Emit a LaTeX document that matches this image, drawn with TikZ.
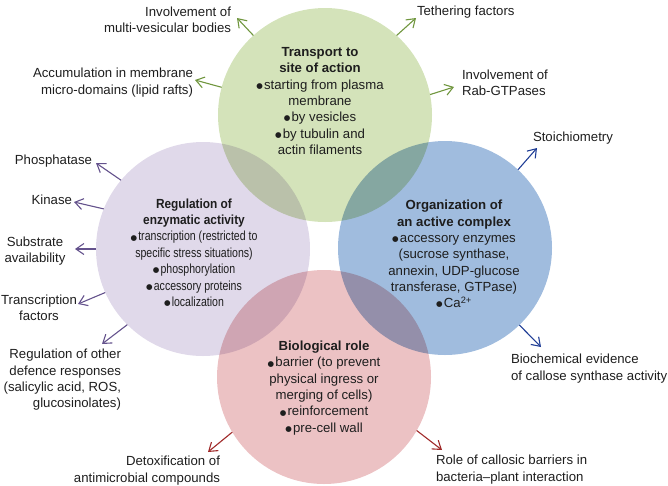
\documentclass[tikz,border=0pt]{standalone}
\usepackage{fontspec}
\setmainfont{Liberation Sans}
\newfontfamily\symfont{DejaVu Sans}
\newfontfamily\purpbody[FakeStretch=0.8]{Liberation Sans}
\newfontfamily\purptitle[FakeStretch=0.9]{Liberation Sans}
\usetikzlibrary{arrows.meta}
\definecolor{gfill}{RGB}{212,227,186}
\definecolor{pfill}{RGB}{224,217,234}
\definecolor{bfill}{RGB}{160,188,222}
\definecolor{rfill}{RGB}{236,194,196}
\definecolor{garr}{RGB}{112,150,62}
\definecolor{parr}{RGB}{100,82,140}
\definecolor{barr}{RGB}{32,62,150}
\definecolor{rarr}{RGB}{160,42,42}
\definecolor{txt}{RGB}{30,30,30}
\newcommand{\bul}{\raisebox{0.8pt}{\symfont\fontsize{7.5}{8}\selectfont ●}\kern1.2pt}
\newcommand{\ptitle}[1]{{\purptitle\bfseries #1}}
\tikzset{
  bubble/.style={circle, minimum size=214pt, inner sep=0pt, outer sep=0pt, draw=none},
  lbl/.style={inner sep=0pt, outer sep=0pt, text=txt, font=\fontsize{13.2}{16.3}\selectfont},
  inner/.style={lbl, align=center},
  narrow/.style={inner, font={\fontsize{13.2}{16.4}\selectfont\purpbody}},
  arr/.style={line width=1.1pt, -{Straight Barb[length=8pt,width=11pt]}},
}
\begin{document}
\begin{tikzpicture}[x=1pt,y=-1pt]
\useasboundingbox (0,0) rectangle (668,485);
\begin{scope}[blend mode=multiply]
\node[bubble, fill=gfill] (green) at (325,115) {};
\node[bubble, fill=pfill] (purple) at (203,249) {};
\node[bubble, fill=bfill] (blue) at (445,248) {};
\node[bubble, fill=rfill] (red) at (324,377) {};
\end{scope}

% inner texts
\node[inner] (tg) at (320,101) {\textbf{Transport to}\\\textbf{site of action}\\\bul starting from plasma\\membrane\\\bul by vesicles\\\bul by tubulin and\\actin filaments};
\node[narrow] (tp) at (194,252.5) {\ptitle{Regulation of}\\\ptitle{enzymatic activity}\\\bul transcription (restricted to\\specific stress situations)\\\bul phosphorylation\\\bul accessory proteins\\\bul localization};
\node[inner] (tb) at (454,254) {\textbf{Organization of}\\\textbf{an active complex}\\\bul accessory enzymes\\(sucrose synthase,\\annexin, UDP-glucose\\transferase, GTPase)\\\bul Ca\textsuperscript{2+}};
\node[inner] (tr) at (324,388) {\textbf{Biological role}\\\bul barrier (to prevent\\physical ingress or\\merging of cells)\\\bul reinforcement\\\bul pre-cell wall};

% outer labels
\node[lbl, align=right, anchor=east] (l1) at (231,20) {Involvement of\\multi-vesicular bodies};
\node[lbl, anchor=west] (l2) at (417,12) {Tethering factors};
\node[lbl, align=right, anchor=east] (l3) at (193,82.5) {Accumulation in membrane\\micro-domains (lipid rafts)};
\node[lbl, align=left, anchor=west] (l4) at (462,82.5) {Involvement of\\Rab-GTPases};
\node[lbl, anchor=east] (l5) at (92,161) {Phosphatase};
\node[lbl, anchor=east] (l6) at (72,200) {Kinase};
\node[lbl, align=center] (l7) at (35,251) {Substrate\\availability};
\node[lbl, align=center] (l8) at (39,307.5) {Transcription\\factors};
\node[lbl, align=right, anchor=east] (l9) at (121,380) {Regulation of other\\defence responses\\(salicylic acid, ROS,\\glucosinolates)};
\node[lbl, anchor=west] (l10) at (533,138) {Stoichiometry};
\node[lbl, align=left, anchor=west] (l11) at (511,368.5) {Biochemical evidence\\of callose synthase activity};
\node[lbl, align=right, anchor=east] (l12) at (220,470.5) {Detoxification of\\antimicrobial compounds};
\node[lbl, align=left, anchor=west] (l13) at (436,469.5) {Role of callosic barriers in\\bacteria--plant interaction};

% arrow tips
\coordinate (a1) at (237,18);
\coordinate (a2) at (416,18);
\coordinate (a3) at (195,80);
\coordinate (a4) at (454,87);
\coordinate (a5) at (96,163);
\coordinate (a6) at (74,202);
\coordinate (a7) at (75,249);
\coordinate (a8) at (78,304);
\coordinate (a9) at (102,344);
\coordinate (a10) at (537,148);
\coordinate (a11) at (541,347);
\coordinate (a12) at (208,452);
\coordinate (a13) at (442,450);

\draw[arr, garr] (green.132) -- (a1);
\draw[arr, garr] (green.48) -- (a2);
\draw[arr, garr] (green.165.6) -- (a3);
\draw[arr, garr] (green.11.9) -- (a4);
\draw[arr, parr] (purple.140.6) -- (a5);
\draw[arr, parr] (purple.158.7) -- (a6);
\draw[arr, parr] (purple.180) -- (a7);
\draw[arr, parr] (purple.204) -- (a8);
\draw[arr, parr] (purple.225.7) -- (a9);
\draw[arr, barr] (blue.47.6) -- (a10);
\draw[arr, barr] (blue.-46) -- (a11);
\draw[arr, rarr] (red.211.6) -- (a12);
\draw[arr, rarr] (red.-30) -- (a13);
\end{tikzpicture}
\end{document}
